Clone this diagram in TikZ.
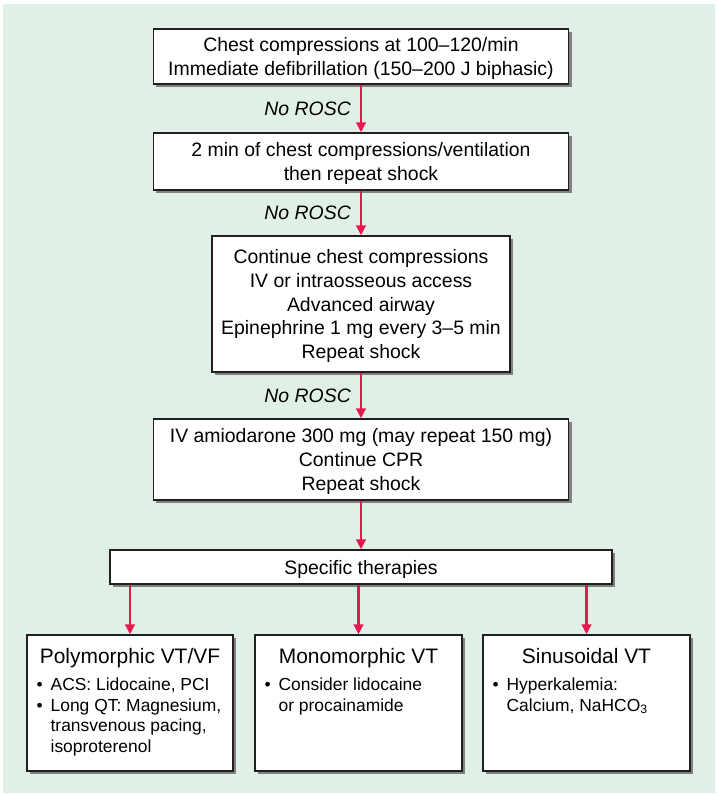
\documentclass[tikz,border=0pt]{standalone}
\usepackage{fontspec}
\setmainfont{Liberation Sans}
\usetikzlibrary{arrows.meta,shadows,calc}
\definecolor{bggreen}{HTML}{E1F0E6}
\definecolor{arrowred}{HTML}{E5194D}
\definecolor{boxline}{HTML}{231F20}
\definecolor{shadowgray}{HTML}{808080}
\begin{document}
\begin{tikzpicture}[x=1bp,y=-1bp,
  box/.style={draw=boxline, line width=1.3bp, fill=white, inner sep=0pt, align=center,
     drop shadow={shadow xshift=3bp, shadow yshift=-3bp, fill=shadowgray, opacity=1}},
  maintext/.style={font=\fontsize{19.5}{24}\selectfont, text depth=-2bp},
  titletext/.style={font=\fontsize{21}{25}\selectfont, inner sep=0pt},
  bul/.style={font=\fontsize{17.5}{20.5}\selectfont, inner sep=0pt, align=left},
  flow/.style={draw=arrowred, line width=2.4bp, -{Triangle[length=10bp,width=9.5bp]}},
  rosc/.style={font=\fontsize{19.5}{24}\selectfont\itshape, anchor=east, inner sep=0pt, xshift=-9bp},
 ]
\useasboundingbox (0,0) rectangle (718,795);
\fill[bggreen] (3,4) rectangle (715,793);

\node[box, maintext, minimum width=415bp, minimum height=55bp] (b1) at (361,56.5)
  {Chest compressions at 100–120/min\\Immediate defibrillation (150–200 J biphasic)};
\node[box, maintext, minimum width=415bp, minimum height=57bp] (b2) at (361,161.5)
  {2 min of chest compressions/ventilation\\then repeat shock};
\node[box, maintext, minimum width=298bp, minimum height=136bp] (b3) at (361,304)
  {Continue chest compressions\\IV or intraosseous access\\Advanced airway\\Epinephrine 1 mg every 3–5 min\\Repeat shock};
\node[box, maintext, minimum width=415bp, minimum height=81bp] (b4) at (361,459.5)
  {IV amiodarone 300 mg (may repeat 150 mg)\\Continue CPR\\Repeat shock};
\node[box, maintext, minimum width=502bp, minimum height=34bp] (spec) at (361,567)
  {Specific therapies};

\node[box, minimum width=206bp, minimum height=136bp] (poly) at (130,703) {};
\node[box, minimum width=207bp, minimum height=136bp] (mono) at (358.5,703) {};
\node[box, minimum width=207bp, minimum height=136bp] (sinu) at (586.5,703) {};

\node[titletext, anchor=base] (polytitle) at ($(poly.north)+(0,29.5)$) {Polymorphic VT/VF};
\node[titletext, anchor=base] (monotitle) at ($(mono.north)+(0,29.5)$) {Monomorphic VT};
\node[titletext, anchor=base] (sinutitle) at ($(sinu.north)+(0,29.5)$) {Sinusoidal VT};

\node[bul, anchor=north west] (polylist) at ($(poly.north west)+(10,42)$)
  {\begin{tabular}{@{}l@{\hspace{8bp}}l@{}}•&ACS: Lidocaine, PCI\\•&Long QT: Magnesium,\\&transvenous pacing,\\&isoproterenol\end{tabular}};
\node[bul, anchor=north west] (monolist) at ($(mono.north west)+(10,42)$)
  {\begin{tabular}{@{}l@{\hspace{8bp}}l@{}}•&Consider lidocaine\\&or procainamide\end{tabular}};
\node[bul, anchor=north west] (sinulist) at ($(sinu.north west)+(10,42)$)
  {\begin{tabular}{@{}l@{\hspace{8bp}}l@{}}•&Hyperkalemia:\\&Calcium, NaHCO\textsubscript{3}\end{tabular}};

\draw[flow] (b1.south) -- node[midway, rosc] (r1) {No ROSC} (b2.north);
\draw[flow] (b2.south) -- node[midway, rosc] (r2) {No ROSC} (b3.north);
\draw[flow] (b3.south) -- node[midway, rosc] (r3) {No ROSC} (b4.north);
\draw[flow] (b4.south) -- (spec.north);
\draw[flow] (spec.south -| poly.north) -- (poly.north);
\draw[flow] (spec.south -| mono.north) -- (mono.north);
\draw[flow] (spec.south -| sinu.north) -- (sinu.north);
\end{tikzpicture}
\end{document}
